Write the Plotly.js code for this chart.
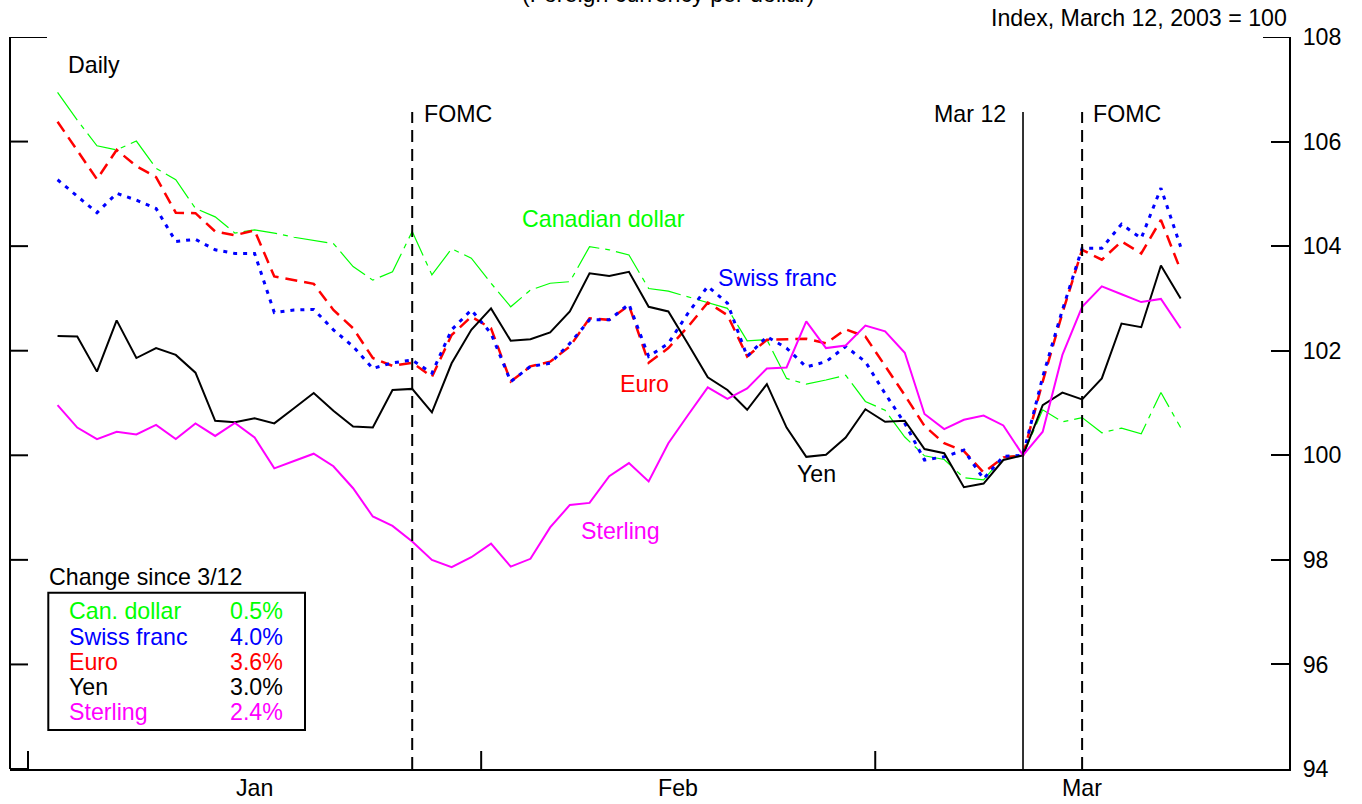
<!DOCTYPE html>
<html>
<head>
<meta charset="utf-8">
<script src="https://cdn.plot.ly/plotly-3.0.1.min.js"></script>
<style>
  html, body { margin: 0; padding: 0; background: #ffffff; }
  #chart { width: 1362px; height: 804px; }
</style>
</head>
<body>
<div id="chart"></div>
<script>
// ---- Data (business days, 2003) ----
const dates = [
  "2003-01-02","2003-01-03","2003-01-06","2003-01-07","2003-01-08","2003-01-09","2003-01-10",
  "2003-01-13","2003-01-14","2003-01-15","2003-01-16","2003-01-17",
  "2003-01-20","2003-01-21","2003-01-22","2003-01-23","2003-01-24",
  "2003-01-27","2003-01-28","2003-01-29","2003-01-30","2003-01-31",
  "2003-02-03","2003-02-04","2003-02-05","2003-02-06","2003-02-07",
  "2003-02-10","2003-02-11","2003-02-12","2003-02-13","2003-02-14",
  "2003-02-17","2003-02-18","2003-02-19","2003-02-20","2003-02-21",
  "2003-02-24","2003-02-25","2003-02-26","2003-02-27","2003-02-28",
  "2003-03-03","2003-03-04","2003-03-05","2003-03-06","2003-03-07",
  "2003-03-10","2003-03-11","2003-03-12","2003-03-13","2003-03-14",
  "2003-03-17","2003-03-18","2003-03-19","2003-03-20","2003-03-21",
  "2003-03-24"
];
const canadianDollar = [106.94,106.41,105.92,105.84,106.01,105.49,105.27,104.72,104.56,104.25,104.31,104.25,104.17,104.11,104.05,103.61,103.35,103.51,104.28,103.45,103.95,103.77,103.29,102.84,103.16,103.29,103.32,103.99,103.93,103.83,103.19,103.14,103.03,102.91,102.81,102.19,102.21,101.47,101.36,101.44,101.53,101.03,100.86,100.35,99.99,99.92,99.57,99.53,99.97,100.00,100.87,100.64,100.72,100.43,100.52,100.41,101.20,100.53];
const swissFranc = [105.27,104.95,104.64,105.01,104.88,104.72,104.09,104.13,103.93,103.86,103.86,102.73,102.78,102.79,102.40,102.08,101.66,101.77,101.82,101.57,102.40,102.78,102.33,101.41,101.70,101.76,102.14,102.59,102.59,102.89,101.89,102.14,102.72,103.23,102.91,101.89,102.27,102.05,101.69,101.79,102.08,101.79,101.18,100.61,99.91,99.97,100.10,99.55,99.98,100.00,101.50,102.78,103.96,103.96,104.42,104.15,105.11,103.99];
const euro = [106.38,105.84,105.28,105.84,105.53,105.32,104.64,104.63,104.28,104.21,104.30,103.42,103.35,103.28,102.78,102.43,101.86,101.71,101.77,101.50,102.30,102.65,102.43,101.41,101.70,101.79,102.08,102.62,102.59,102.87,101.77,102.05,102.46,102.92,102.68,101.89,102.21,102.22,102.23,102.14,102.41,102.27,101.72,101.15,100.56,100.23,100.08,99.67,99.96,100.00,101.41,102.72,103.93,103.74,104.09,103.86,104.50,103.54];
const yen = [102.28,102.27,101.60,102.58,101.86,102.05,101.92,101.58,100.66,100.63,100.71,100.61,100.90,101.19,100.85,100.55,100.53,101.25,101.27,100.82,101.76,102.40,102.81,102.19,102.22,102.35,102.75,103.48,103.43,103.51,102.84,102.75,102.13,101.49,101.25,100.87,101.36,100.53,99.97,100.01,100.34,100.88,100.64,100.66,100.12,100.04,99.39,99.46,99.91,100.00,100.96,101.20,101.07,101.47,102.52,102.45,103.63,103.00];
const sterling = [100.96,100.53,100.31,100.45,100.40,100.58,100.31,100.61,100.37,100.62,100.34,99.75,99.89,100.03,99.79,99.37,98.83,98.65,98.35,98.00,97.86,98.05,98.31,97.87,98.02,98.62,99.05,99.09,99.60,99.85,99.50,100.23,100.77,101.30,101.08,101.28,101.66,101.68,102.56,102.05,102.10,102.48,102.37,101.96,100.79,100.50,100.68,100.76,100.57,100.00,100.45,101.92,102.84,103.23,103.08,102.93,102.99,102.43];

const months = ["Jan", "Feb", "Mar"];
const monthStarts = ["2003-01-01", "2003-02-03", "2003-03-03", "2003-04-01"];
const yTicks = [94, 96, 98, 100, 102, 104, 106, 108];

const legendNames = ["Can. dollar", "Swiss franc", "Euro", "Yen", "Sterling"];
const legendChanges = ["0.5%", "4.0%", "3.6%", "3.0%", "2.4%"];

const fomcDates = ["2003-01-28", "2003-03-17"];
const markerDate = "2003-03-12";

// ---- helpers ----
const base = new Date(Date.UTC(2003, 0, 1));
function bday(s) {            // business-day index, Jan 1 2003 = 0
  const d = new Date(s + "T00:00:00Z");
  let n = 0;
  for (let t = new Date(base); t < d; t.setUTCDate(t.getUTCDate() + 1)) {
    const w = t.getUTCDay();
    if (w !== 0 && w !== 6) n++;
  }
  return n;
}
const xs = dates.map(bday);
const edges = monthStarts.map(s => bday(s) - 0.5);
const mids = months.map((m, i) => (edges[i] + edges[i + 1]) / 2);

const L = 10, R = 1289, T = 37, B = 769, W = R - L, H = B - T;
const px = x => (x - L) / W;
const py = y => (B - y) / H;
const TICK = 18;

const FONT = "Liberation Sans, Arial, Helvetica, sans-serif";
const FS = 23.2;
const GREEN = "#00ff00", BLUE = "#0000ff", RED = "#ff0000", BLACK = "#000000", MAGENTA = "#ff00ff";
const colors = [GREEN, BLUE, RED, BLACK, MAGENTA];

const traces = [
  {x: xs, y: canadianDollar, name: "Canadian dollar", line: {color: GREEN, width: 1.2, dash: "34px,6px,5px,6px"}},
  {x: xs, y: euro, name: "Euro", line: {color: RED, width: 2.5, dash: "12px,7px"}},
  {x: xs, y: swissFranc, name: "Swiss franc", line: {color: BLUE, width: 3, dash: "4px,6px"}},
  {x: xs, y: yen, name: "Yen", line: {color: BLACK, width: 2}},
  {x: xs, y: sterling, name: "Sterling", line: {color: MAGENTA, width: 2}}
].map(t => Object.assign(t, {type: "scatter", mode: "lines", hoverinfo: "skip", showlegend: false}));

function ann(text, x, y, xanchor, color, xref) {
  return {text: text, xref: xref || "paper", yref: "paper", x: x, y: y, xanchor: xanchor, yanchor: "middle",
          showarrow: false, borderpad: 0, font: {family: FONT, size: FS, color: color || BLACK}};
}

const annotations = [
  ann("(Foreign currency per dollar)", px(668), py(-6), "center"),
  ann("Index, March 12, 2003 = 100", px(1288), py(18.5), "right"),
  ann("Daily", px(67), py(65.5), "left"),
  ann("FOMC", px(423), py(113.5), "left"),
  ann("Mar 12", px(1007), py(113.5), "right"),
  ann("FOMC", px(1092), py(113.5), "left"),
  ann("Canadian dollar", px(520.5), py(219), "left", GREEN),
  ann("Swiss franc", px(717), py(278), "left", BLUE),
  ann("Euro", px(619), py(383.5), "left", RED),
  ann("Yen", px(796), py(473.5), "left", BLACK),
  ann("Sterling", px(580), py(531), "left", MAGENTA),
  ann("Change since 3/12", px(48), py(576.5), "left")
];
months.forEach((m, i) => annotations.push(ann(m, mids[i], py(788.5), "center", BLACK, "x")));
const rowY = [611, 637, 662, 687, 712];
legendNames.forEach((n, i) => {
  annotations.push(ann(n, px(68.3), py(rowY[i]), "left", colors[i]));
  annotations.push(ann(legendChanges[i], px(283.7), py(rowY[i]), "right", colors[i]));
});

const vTop = 108 - (112 - T) / (H / 14);
const axisLine = {color: BLACK, width: 2};
const shapes = [
  // left axis line and inward ticks
  {type: "line", xref: "paper", yref: "paper", x0: 0, x1: 0, y0: 0, y1: 1, line: axisLine},
  ...yTicks.map(v => ({type: "line", xref: "paper", yref: "y", x0: 0, x1: (v === 108 ? px(47) : TICK / W),
                       y0: v, y1: v, line: axisLine})),
  // month boundary ticks on the bottom axis
  ...edges.slice(0, 3).map(e => ({type: "line", xref: "x", yref: "paper", x0: e, x1: e, y0: 0, y1: TICK / H,
                                   line: axisLine})),
  // event lines
  {type: "line", xref: "x", yref: "y", x0: bday(markerDate), x1: bday(markerDate), y0: 94, y1: vTop,
   line: {color: BLACK, width: 1.6}},
  ...fomcDates.map(d => ({type: "line", xref: "x", yref: "y", x0: bday(d), x1: bday(d), y0: 94, y1: vTop,
   line: {color: BLACK, width: 2, dash: "12px,7px"}})),
  // box around the change table
  {type: "rect", xref: "paper", yref: "paper", x0: px(48.3), x1: px(305), y0: py(730), y1: py(592.7),
   line: {color: BLACK, width: 2}, fillcolor: "rgba(0,0,0,0)"},
  // longer stub at top right
  {type: "line", xref: "paper", yref: "y", x0: px(R - 26), x1: 1, y0: 108, y1: 108, line: axisLine}
];

const layout = {
  width: 1362, height: 804,
  margin: {l: L, r: 1362 - R, t: T, b: 804 - B, pad: 0},
  paper_bgcolor: "#ffffff", plot_bgcolor: "#ffffff",
  showlegend: false,
  font: {family: FONT, size: FS, color: BLACK},
  xaxis: {range: [(L - 28) / 19.7 - 0.5, edges[3]], showticklabels: false, ticks: "",
          showline: true, linecolor: BLACK, linewidth: 2, showgrid: false, zeroline: false, fixedrange: true},
  yaxis: {side: "right", range: [94, 108], tickvals: yTicks, ticktext: yTicks.map(String),
          ticks: "inside", ticklen: TICK, tickwidth: 2, tickcolor: BLACK,
          showline: true, linecolor: BLACK, linewidth: 2, showgrid: false, zeroline: false,
          tickfont: {family: FONT, size: FS, color: BLACK}, ticklabelstandoff: 7, fixedrange: true},
  annotations: annotations,
  shapes: shapes
};

Plotly.newPlot("chart", traces, layout, {displayModeBar: false, staticPlot: true});
</script>
</body>
</html>
